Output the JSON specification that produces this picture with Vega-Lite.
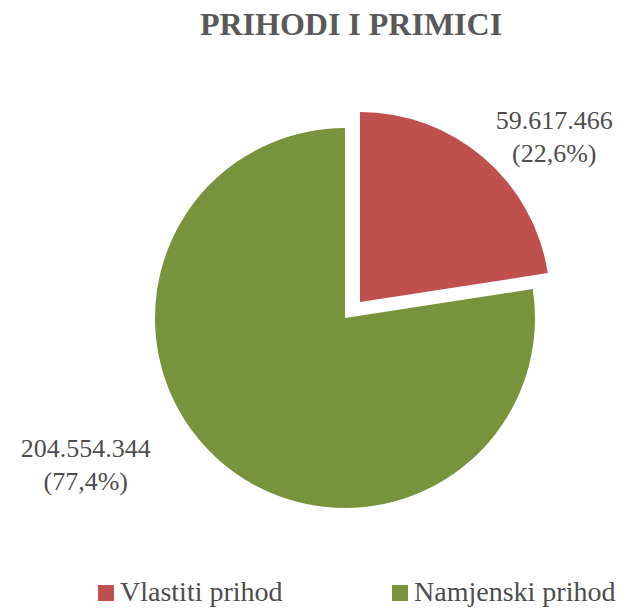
{
  "$schema": "https://vega.github.io/schema/vega-lite/v6.json",
  "width": 568,
  "height": 516,
  "autosize": {"type": "none"},
  "padding": {"left": 61, "top": 60, "right": 0, "bottom": 32},
  "background": "white",
  "view": {"stroke": null},
  "title": {"text": "PRIHODI I PRIMICI", "font": "Liberation Serif", "fontSize": 32, "fontWeight": "bold", "color": "#595959", "anchor": "middle", "dx": 6, "offset": 18},
  "data": {"values": [
    {"category": "Vlastiti prihod", "value": 59617466, "label": "59.617.466\n(22,6%)"},
    {"category": "Namjenski prihod", "value": 204554344, "label": "204.554.344\n(77,4%)"}
  ]},
  "encoding": {
    "theta": {"field": "value", "type": "quantitative", "stack": true},
    "order": {"field": "category", "sort": "descending"},
    "color": {
      "field": "category", "type": "nominal",
      "scale": {"domain": ["Vlastiti prihod", "Namjenski prihod"], "range": ["#C0504D", "#77933C"]},
      "legend": {"orient": "none", "legendX": 31, "legendY": 519, "padding": 0, "direction": "horizontal", "title": null, "symbolType": "square", "symbolSize": 256, "symbolStrokeWidth": 0, "labelFont": "Liberation Serif", "labelFontSize": 28, "labelColor": "#4d4d4d", "columnPadding": 103, "labelOffset": 0, "labelLimit": 400}
    }
  },
  "layer": [
    {"mark": {"type": "arc", "outerRadius": 190},
     "encoding": {"fillOpacity": {"condition": {"test": "datum.category === 'Vlastiti prihod'", "value": 0}, "value": 1}}},
    {"mark": {"type": "arc", "outerRadius": 190, "xOffset": 15, "yOffset": -16},
     "encoding": {"fillOpacity": {"condition": {"test": "datum.category === 'Vlastiti prihod'", "value": 1}, "value": 0}}},
    {"mark": {"type": "text", "radius": 260, "dx": 40, "dy": 0, "font": "Liberation Serif", "fontSize": 26, "lineBreak": "\n", "lineHeight": 33, "align": "center", "baseline": "middle"},
     "encoding": {"text": {"field": "label"}, "color": {"value": "#4d4d4d"},
       "opacity": {"condition": {"test": "datum.category === 'Vlastiti prihod'", "value": 1}, "value": 0}}},
    {"mark": {"type": "text", "radius": 220, "dx": -116, "dy": -36, "font": "Liberation Serif", "fontSize": 26, "lineBreak": "\n", "lineHeight": 33, "align": "center", "baseline": "middle"},
     "encoding": {"text": {"field": "label"}, "color": {"value": "#4d4d4d"},
       "opacity": {"condition": {"test": "datum.category === 'Vlastiti prihod'", "value": 0}, "value": 1}}}
  ]
}
